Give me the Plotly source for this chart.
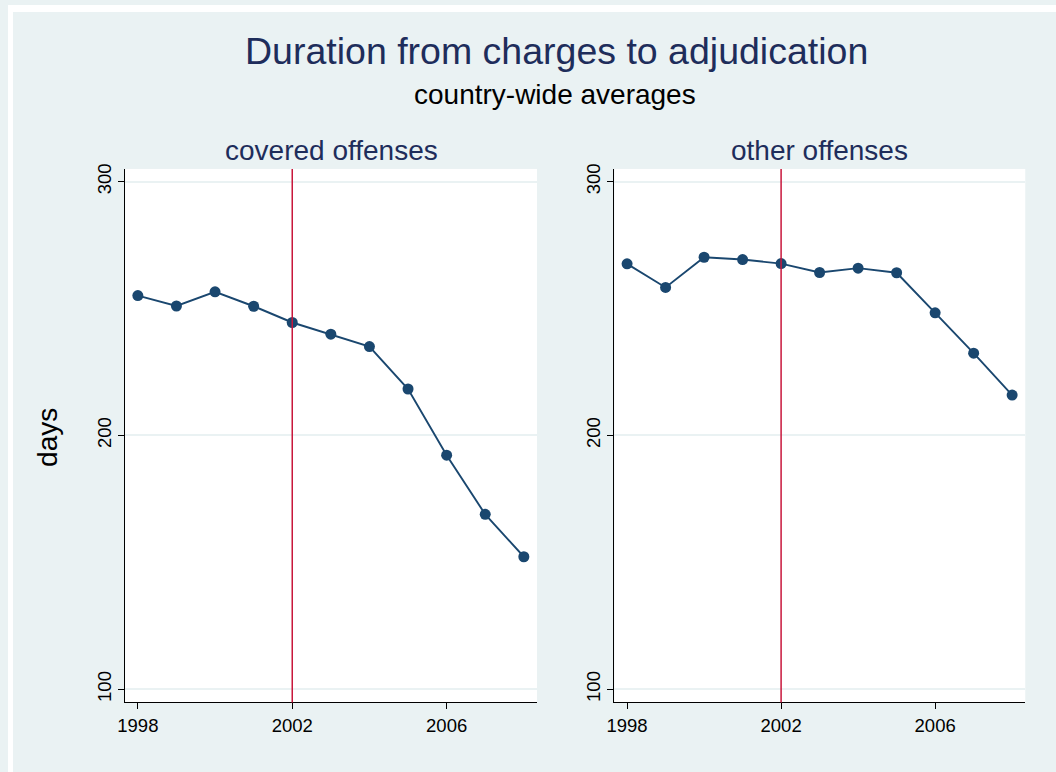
import plotly.graph_objects as go

years = [1998, 1999, 2000, 2001, 2002, 2003, 2004, 2005, 2006, 2007, 2008]
covered = [255.1, 251.0, 256.6, 250.9, 244.5, 239.9, 235.0, 218.3, 192.2, 168.9, 152.2]
other = [267.6, 258.3, 270.2, 269.3, 267.7, 264.2, 265.9, 264.1, 248.3, 232.4, 215.9]
panel_titles = ["covered offenses", "other offenses"]
x_ticks = [1998, 2002, 2006]
y_ticks = [100, 200, 300]
policy_year = 2002

W, H = 1056, 772
BG = "#EAF2F3"
NAVY = "#1A476F"
TITLE_NAVY = "#1E2D5B"
RED = "#C8163B"
FONT = "Liberation Sans, Arial, sans-serif"

def px(x):
    return x / W

def py(y):
    return 1 - y / H

fig = go.Figure()
for i, vals in enumerate([covered, other]):
    fig.add_trace(go.Scatter(
        x=years, y=vals, mode="lines+markers",
        line=dict(color=NAVY, width=1.9),
        marker=dict(color=NAVY, size=11),
        xaxis="x" if i == 0 else "x2", yaxis="y" if i == 0 else "y2",
        showlegend=False, hoverinfo="x+y",
    ))

axis_common = dict(showline=True, linecolor="black", linewidth=1, ticks="outside",
                   ticklen=6, tickcolor="black", tickwidth=1, zeroline=False,
                   tickfont=dict(family=FONT, size=18.5, color="black"))
xr = [1997.67, 2008.34]
yr = [94.8, 305.0]
ydom = [py(702), py(165)]

layout = dict(
    width=W, height=H, margin=dict(l=0, r=0, t=0, b=0),
    paper_bgcolor=BG, plot_bgcolor="white",
    font=dict(family=FONT, color="black"),
    xaxis=dict(domain=[px(118), px(533)], range=xr, tickvals=x_ticks, showgrid=False,
               anchor="y", **axis_common),
    xaxis2=dict(domain=[px(611), px(1025)], range=xr, tickvals=x_ticks, showgrid=False,
                anchor="y2", **axis_common),
    yaxis=dict(domain=ydom, range=yr, tickvals=y_ticks, showgrid=True, gridcolor=BG,
               gridwidth=1.5, tickangle=-90, anchor="x", **axis_common),
    yaxis2=dict(domain=ydom, range=yr, tickvals=y_ticks, showgrid=True, gridcolor=BG,
                gridwidth=1.5, tickangle=-90, anchor="x2", **axis_common),
)
fig.update_layout(**layout)

shapes = [
    dict(type="rect", xref="paper", yref="paper", x0=0, x1=px(5), y0=0, y1=1,
         fillcolor="white", line=dict(width=0), layer="above"),
    dict(type="rect", xref="paper", yref="paper", x0=0, x1=1, y0=py(7), y1=1,
         fillcolor="white", line=dict(width=0), layer="above"),
]
for xa, ya in [("x", "y"), ("x2", "y2")]:
    shapes.append(dict(type="line", xref=xa, yref=ya + " domain", x0=policy_year, x1=policy_year,
                       y0=0, y1=1, line=dict(color=RED, width=1.5), layer="above"))
fig.update_layout(shapes=shapes)

ann = [
    dict(text="Duration from charges to adjudication", x=px(553), y=py(46),
         font=dict(size=37.5, color=TITLE_NAVY, family=FONT)),
    dict(text="country-wide averages", x=px(551), y=py(90),
         font=dict(size=28, color="black", family=FONT)),
    dict(text=panel_titles[0], x=px(325.5), y=py(146),
         font=dict(size=28, color=TITLE_NAVY, family=FONT)),
    dict(text=panel_titles[1], x=px(817.7), y=py(146),
         font=dict(size=28, color=TITLE_NAVY, family=FONT)),
    dict(text="days", x=px(39), y=py(435), textangle=-90,
         font=dict(size=28, color="black", family=FONT)),
]
for a in ann:
    a.update(xref="paper", yref="paper", showarrow=False, xanchor="center", yanchor="middle")
fig.update_layout(annotations=ann)

fig.write_html("out.html")
